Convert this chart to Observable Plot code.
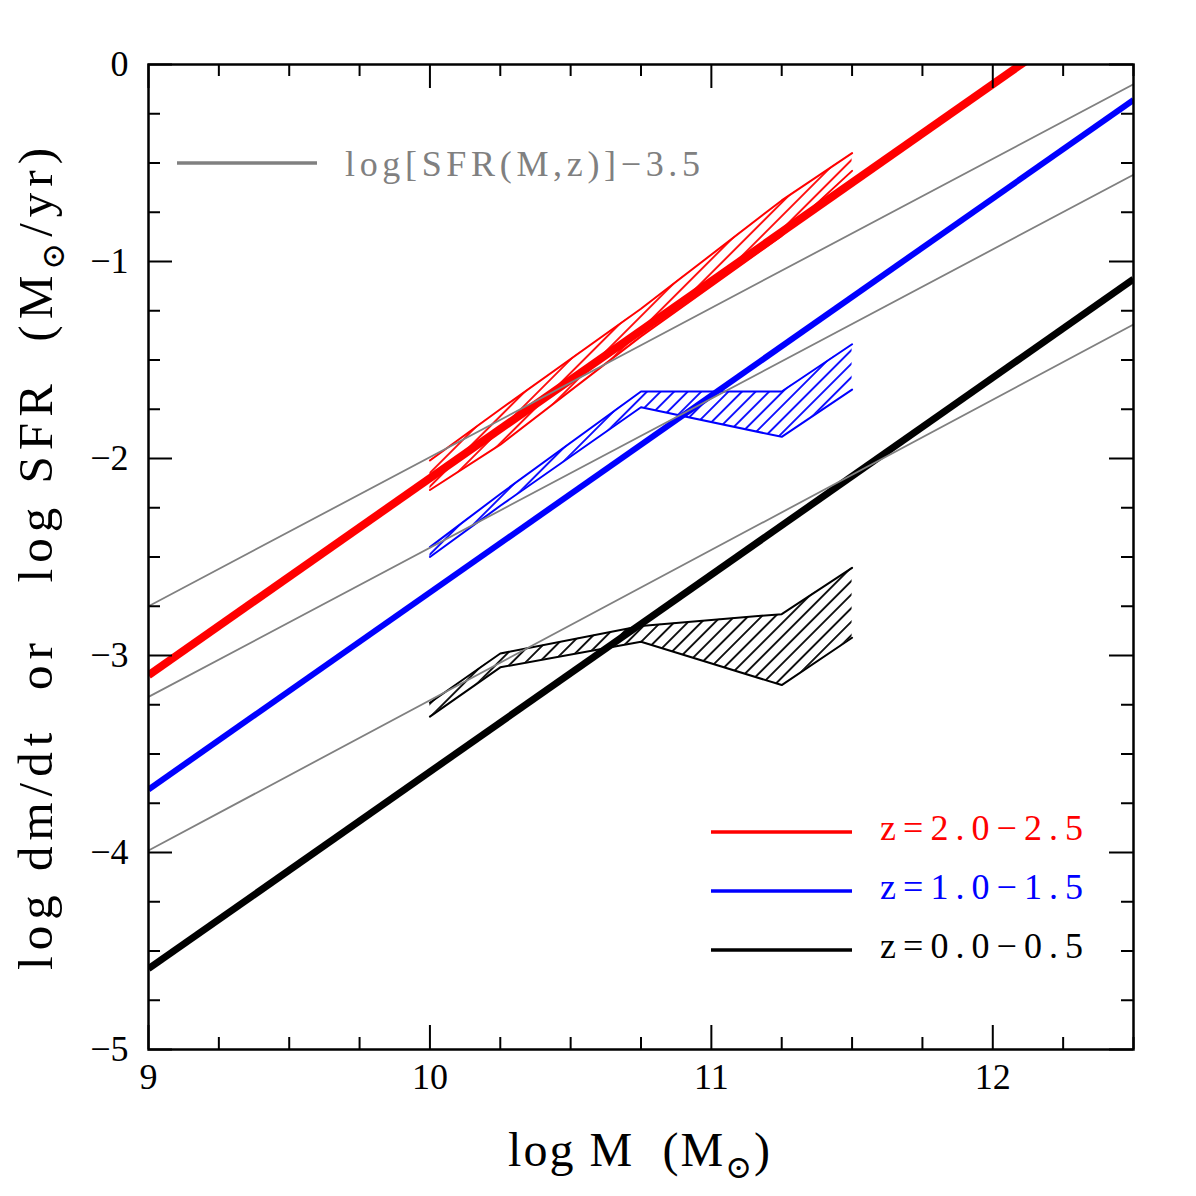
<!DOCTYPE html>
<html>
<head>
<meta charset="utf-8">
<script src="https://cdn.jsdelivr.net/npm/d3@7"></script>
<script src="https://cdn.jsdelivr.net/npm/@observablehq/plot@0.6"></script>
<style>
  html, body { margin: 0; padding: 0; background: #ffffff; }
  #chart { width: 1196px; height: 1196px; }
</style>
</head>
<body>
<div id="chart"></div>
<script>
// ---------- data ----------
// straight relations, given by their values at the two ends of the mass axis
const lineMass = [9, 12.5];
const dmdtRed   = [-3.10, 0.40];   // z=2.0-2.5
const dmdtBlue  = [-3.68, -0.18];  // z=1.0-1.5
const dmdtBlack = [-4.59, -1.09];  // z=0.0-0.5
const sfrRed    = [-2.75, -0.10];  // log SFR - 3.5, z=2.0-2.5
const sfrBlue   = [-3.21, -0.56];  // z=1.0-1.5
const sfrBlack  = [-3.99, -1.32];  // z=0.0-0.5

// hatched bands (observed ranges)
const bandMass   = [10, 10.25, 10.75, 11.25, 11.5];
const redUpper   = [-2.01, -1.75, -1.24, -0.69, -0.45];
const redLower   = [-2.16, -1.93, -1.38, -0.87, -0.54];
const blueUpper  = [-2.45, -2.18, -1.66, -1.66, -1.42];
const blueLower  = [-2.50, -2.24, -1.74, -1.89, -1.65];
const blackUpper = [-3.24, -2.99, -2.85, -2.79, -2.555];
const blackLower = [-3.31, -3.06, -2.93, -3.15, -2.91];

// ticks
const xMajor = [9, 10, 11, 12];
const xMinor = [9.25, 9.5, 9.75, 10.25, 10.5, 10.75, 11.25, 11.5, 11.75, 12.25, 12.5];
const yMajor = [0, -1, -2, -3, -4, -5];
const yMinor = [-0.25, -0.5, -0.75, -1.25, -1.5, -1.75, -2.25, -2.5, -2.75,
                -3.25, -3.5, -3.75, -4.25, -4.5, -4.75];

// legend
const seriesNames  = ["z=2.0\u22122.5", "z=1.0\u22121.5", "z=0.0\u22120.5"];
const seriesColors = ["#ff0000", "#0000ff", "#000000"];
const sfrLabel = "log[SFR(M,z)]\u22123.5";
const grey = "#808080";

// ---------- layout ----------
const W = 1196, H = 1196;
const mL = 148, mR = 63, mT = 64, mB = 147;
const fw = W - mL - mR, fh = H - mT - mB;
const FONT = "'Liberation Serif', 'DejaVu Serif', serif";
const intFmt = d => (d < 0 ? "\u2212" : "") + Math.abs(d);

const pts  = (ys) => lineMass.map((x, i) => ({x, y: ys[i]}));
const bpts = (ys) => bandMass.map((x, i) => ({x, y: ys[i]}));
const band = (u, l) => bandMass.map((x, i) => ({x, y1: l[i], y2: u[i]}));

const bands = [
  {u: redUpper, l: redLower, c: seriesColors[0], id: "hatch-red"},
  {u: blueUpper, l: blueLower, c: seriesColors[1], id: "hatch-blue"},
  {u: blackUpper, l: blackLower, c: seriesColors[2], id: "hatch-black"}
];

const marks = [];
for (const b of bands) {
  marks.push(Plot.areaY(band(b.u, b.l), {x: "x", y1: "y1", y2: "y2", fill: `url(#${b.id})`}));
  marks.push(Plot.line(bpts(b.u), {x: "x", y: "y", stroke: b.c, strokeWidth: 2}));
  marks.push(Plot.line(bpts(b.l), {x: "x", y: "y", stroke: b.c, strokeWidth: 2}));
}
marks.push(Plot.line(pts(dmdtBlack), {x: "x", y: "y", stroke: seriesColors[2], strokeWidth: 7, clip: true, strokeLinecap: "butt"}));
marks.push(Plot.line(pts(dmdtBlue),  {x: "x", y: "y", stroke: seriesColors[1], strokeWidth: 6, clip: true, strokeLinecap: "butt"}));
marks.push(Plot.line(pts(dmdtRed),   {x: "x", y: "y", stroke: seriesColors[0], strokeWidth: 8, clip: true, strokeLinecap: "butt"}));
for (const s of [sfrRed, sfrBlue, sfrBlack]) {
  marks.push(Plot.line(pts(s), {x: "x", y: "y", stroke: grey, strokeWidth: 1.8, clip: true}));
}
// inside ticks on all four sides
marks.push(Plot.tickX(xMajor, {x: d => d, insetTop: fh - 24, strokeWidth: 2}));
marks.push(Plot.tickX(xMajor, {x: d => d, insetBottom: fh - 24, strokeWidth: 2}));
marks.push(Plot.tickX(xMinor, {x: d => d, insetTop: fh - 12, strokeWidth: 2}));
marks.push(Plot.tickX(xMinor, {x: d => d, insetBottom: fh - 12, strokeWidth: 2}));
marks.push(Plot.tickY(yMajor, {y: d => d, insetRight: fw - 24, strokeWidth: 2}));
marks.push(Plot.tickY(yMajor, {y: d => d, insetLeft: fw - 24, strokeWidth: 2}));
marks.push(Plot.tickY(yMinor, {y: d => d, insetRight: fw - 12, strokeWidth: 2}));
marks.push(Plot.tickY(yMinor, {y: d => d, insetLeft: fw - 12, strokeWidth: 2}));
marks.push(Plot.axisX(xMajor, {tickSize: 0, tickPadding: 14, fontSize: 36, label: null, fontFamily: FONT, fill: "#000", tickFormat: intFmt}));
marks.push(Plot.axisY(yMajor, {tickSize: 0, tickPadding: 20, fontSize: 36, label: null, fontFamily: FONT, fill: "#000", tickFormat: intFmt}));
marks.push(Plot.frame({stroke: "#000", strokeWidth: 2.5}));

const plot = Plot.plot({
  width: W, height: H,
  marginLeft: mL, marginRight: mR, marginTop: mT, marginBottom: mB,
  x: {domain: [9, 12.5]},
  y: {domain: [-5, 0]},
  style: {fontFamily: FONT, fontSize: "36px", background: "#ffffff", color: "#000"},
  marks
});

const svg = d3.select(plot);
svg.selectAll('g[aria-label="x-axis tick label"], g[aria-label="y-axis tick label"]')
  .attr("font-size", 36);
// hatch patterns
const defs = svg.insert("defs", ":first-child");
for (const b of bands) {
  const p = defs.append("pattern")
    .attr("id", b.id)
    .attr("patternUnits", "userSpaceOnUse")
    .attr("width", 9.6).attr("height", 9.6)
    .attr("patternTransform", "rotate(45)");
  p.append("line")
    .attr("x1", 4.8).attr("y1", -1).attr("x2", 4.8).attr("y2", 10.6)
    .attr("stroke", b.c).attr("stroke-width", 1.8);
}

// axis titles
const xl = svg.append("text")
  .attr("x", 508).attr("y", 1166)
  .attr("text-anchor", "start")
  .attr("font-family", FONT).attr("font-size", 48).attr("fill", "#000")
  .attr("textLength", 262).attr("lengthAdjust", "spacing")
  .attr("xml:space", "preserve");
xl.append("tspan").text("log M  (M");
xl.append("tspan").attr("dy", 12).attr("font-size", 32).text("\u2299");
xl.append("tspan").attr("dy", -12).text(")");

const yl = svg.append("text")
  .attr("transform", "translate(52,970) rotate(-90)")
  .attr("text-anchor", "start")
  .attr("font-family", FONT).attr("font-size", 49).attr("fill", "#000")
  .attr("textLength", 822).attr("lengthAdjust", "spacing")
  .attr("xml:space", "preserve");
yl.append("tspan").text("log dm/dt  or   log SFR  (M");
yl.append("tspan").attr("dy", 12).attr("font-size", 32).text("\u2299");
yl.append("tspan").attr("dy", -12).text("/yr)");

// legends
const lg = svg.append("g").attr("text-anchor", "start");
lg.append("line").attr("x1", 177).attr("x2", 317).attr("y1", 163).attr("y2", 163)
  .attr("stroke", grey).attr("stroke-width", 3.5);
lg.append("text").attr("x", 345).attr("y", 176).attr("text-anchor", "start")
  .attr("font-family", FONT).attr("font-size", 36).attr("fill", grey)
  .attr("textLength", 355).attr("lengthAdjust", "spacing").text(sfrLabel);
const ly = [832, 891, 950];
seriesNames.forEach((name, i) => {
  lg.append("line").attr("x1", 711).attr("x2", 852).attr("y1", ly[i]).attr("y2", ly[i])
    .attr("stroke", seriesColors[i]).attr("stroke-width", 3.5);
  lg.append("text").attr("x", 880).attr("y", ly[i] + 8).attr("text-anchor", "start")
    .attr("font-family", FONT).attr("font-size", 36).attr("fill", seriesColors[i])
    .attr("textLength", 203).attr("lengthAdjust", "spacing").text(name);
});

document.getElementById("chart").appendChild(plot);
</script>
</body>
</html>
